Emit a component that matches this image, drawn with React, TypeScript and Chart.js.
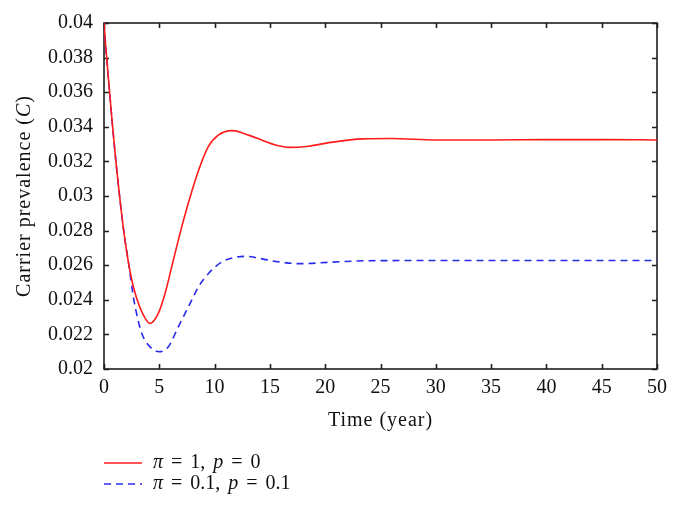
import React, { useEffect, useRef } from "react";
import { Chart, registerables } from "chart.js";

Chart.register(...registerables);

// ---- data ----
const redTime = [0, 0.15, 0.48, 0.75, 1.06, 1.39, 1.78, 2.25, 2.6, 3.0, 3.5, 4.16, 4.91, 5.52, 6.12, 6.72, 7.32, 7.93, 8.53, 9.43, 10.33, 11.6, 13.2, 14.4, 15.5, 16.8, 18.5, 20.5, 23.4, 26, 30, 35, 40, 45, 50];
const redValues = [0.04, 0.0387, 0.0362, 0.0342, 0.0321, 0.0301, 0.028, 0.026, 0.0249, 0.024, 0.0232, 0.02263, 0.02321, 0.02436, 0.0259, 0.02745, 0.0289, 0.03025, 0.03145, 0.03285, 0.03352, 0.03378, 0.03349, 0.0332, 0.03295, 0.03281, 0.03288, 0.0331, 0.0333, 0.03332, 0.03324, 0.03324, 0.03326, 0.03326, 0.03324];

const blueTime = [0, 0.15, 0.48, 0.75, 1.06, 1.39, 1.78, 2.25, 2.7, 3.4, 4.2, 5.0, 5.82, 6.72, 7.63, 8.53, 9.43, 10.63, 12.0, 12.9, 14, 15.5, 17.7, 20.7, 24, 30, 40, 50];
const blueValues = [0.04, 0.0387, 0.0362, 0.0342, 0.0321, 0.0301, 0.028, 0.026, 0.024, 0.0221, 0.02125, 0.021, 0.02129, 0.02244, 0.02359, 0.02474, 0.02551, 0.02618, 0.02647, 0.02651, 0.0264, 0.02622, 0.02609, 0.02618, 0.02626, 0.02627, 0.02627, 0.02627];

const xTickValues = [0, 5, 10, 15, 20, 25, 30, 35, 40, 45, 50];
const yTickValues = [0.02, 0.022, 0.024, 0.026, 0.028, 0.03, 0.032, 0.034, 0.036, 0.038, 0.04];

const xTitle = "Time (year)";
const yTitleRuns: [string, boolean][] = [["Carrier prevalence (", false], ["C", true], [")", false]];
const legendRuns: [string, boolean][][] = [
  [["π", true], [" = 1, ", false], ["p", true], [" = 0", false]],
  [["π", true], [" = 0.1, ", false], ["p", true], [" = 0.1", false]],
];
const seriesColors = ["#ff1a1a", "#2a2aee"];
const seriesDash = [[], [7, 5]];

const FONT = '"Liberation Serif", "DejaVu Serif", serif';
const FS = 20;

function runsWidth(ctx: CanvasRenderingContext2D, runs: [string, boolean][]) {
  let w = 0;
  for (const [t, it] of runs) {
    ctx.font = `${it ? "italic " : ""}${FS}px ${FONT}`;
    w += ctx.measureText(t).width;
  }
  return w;
}
function drawRuns(ctx: CanvasRenderingContext2D, runs: [string, boolean][], x: number, y: number, extraSpace = 0) {
  let cx = x;
  for (const [t, it] of runs) {
    ctx.font = `${it ? "italic " : ""}${FS}px ${FONT}`;
    if (extraSpace === 0) {
      ctx.fillText(t, cx, y);
      cx += ctx.measureText(t).width;
    } else {
      const parts = t.split(" ");
      parts.forEach((p, k) => {
        if (p) {
          ctx.fillText(p, cx, y);
          cx += ctx.measureText(p).width;
        }
        if (k < parts.length - 1) cx += ctx.measureText(" ").width + extraSpace;
      });
    }
  }
}

const framePlugin = {
  id: "frame",
  beforeDatasetsDraw(chart: any) {
    const { ctx, chartArea: a, scales } = chart;
    const xs = scales.x;
    const ys = scales.y;
    ctx.save();
    ctx.strokeStyle = "#1e1e1e";
    ctx.lineWidth = 1.6;
    ctx.strokeRect(a.left, a.top, a.right - a.left, a.bottom - a.top);
    const tl = 5;
    ctx.beginPath();
    xs.ticks.forEach((t: any) => {
      const px = Math.round(xs.getPixelForValue(t.value)) + 0.5;
      ctx.moveTo(px, a.bottom);
      ctx.lineTo(px, a.bottom - tl);
      ctx.moveTo(px, a.top);
      ctx.lineTo(px, a.top + tl);
    });
    ys.ticks.forEach((t: any) => {
      const py = Math.round(ys.getPixelForValue(t.value)) + 0.5;
      ctx.moveTo(a.left, py);
      ctx.lineTo(a.left + tl, py);
      ctx.moveTo(a.right, py);
      ctx.lineTo(a.right - tl, py);
    });
    ctx.stroke();
    ctx.restore();
  },
  afterDraw(chart: any) {
    const { ctx, chartArea: a } = chart;
    ctx.save();
    ctx.fillStyle = "#111";
    ctx.textBaseline = "middle";
    // x title
    (ctx as any).letterSpacing = "1px";
    ctx.font = `${FS}px ${FONT}`;
    ctx.textAlign = "left";
    const xw = ctx.measureText(xTitle).width;
    ctx.fillText(xTitle, (a.left + a.right) / 2 - xw / 2, 421);
    // y title
    ctx.save();
    ctx.translate(25, (a.top + a.bottom) / 2);
    ctx.rotate(-Math.PI / 2);
    const w = runsWidth(ctx, yTitleRuns);
    drawRuns(ctx, yTitleRuns, -w / 2, 0);
    ctx.restore();
    (ctx as any).letterSpacing = "0px";
    // legend
    const ys = [463, 484];
    legendRuns.forEach((runs, i) => {
      ctx.save();
      ctx.strokeStyle = seriesColors[i];
      ctx.lineWidth = 1.6;
      ctx.setLineDash(seriesDash[i]);
      ctx.beginPath();
      ctx.moveTo(104, ys[i]);
      ctx.lineTo(142, ys[i]);
      ctx.stroke();
      ctx.restore();
      drawRuns(ctx, runs, 153, ys[i], 3);
    });
    ctx.restore();
  },
};

export default function App() {
  const ref = useRef<HTMLCanvasElement | null>(null);
  useEffect(() => {
    document.body.style.margin = "0";
    const canvas = ref.current!;
    const chart = new Chart(canvas, {
      type: "line",
      data: {
        datasets: [
          {
            label: "π = 1, p = 0",
            data: redTime.map((t, i) => ({ x: t, y: redValues[i] })),
            borderColor: seriesColors[0],
            borderWidth: 1.6,
            pointRadius: 0,
            cubicInterpolationMode: "monotone",
            fill: false,
          },
          {
            label: "π = 0.1, p = 0.1",
            data: blueTime.map((t, i) => ({ x: t, y: blueValues[i] })),
            borderColor: seriesColors[1],
            borderWidth: 1.6,
            borderDash: seriesDash[1],
            pointRadius: 0,
            cubicInterpolationMode: "monotone",
            fill: false,
          },
        ],
      },
      options: {
        responsive: false,
        animation: false,
        layout: { padding: { left: 0, top: 22, right: 21, bottom: 0 } },
        plugins: { legend: { display: false }, tooltip: { enabled: false } },
        scales: {
          x: {
            type: "linear",
            min: 0,
            max: 50,
            afterBuildTicks: (s: any) => {
              s.ticks = xTickValues.map((v) => ({ value: v }));
            },
            afterFit: (s: any) => {
              s.height = 154;
            },
            grid: { display: false, drawTicks: false },
            border: { display: false },
            ticks: {
              padding: 7,
              color: "#111",
              font: { family: FONT, size: FS },
              maxRotation: 0,
              callback: (v: any) => String(v),
            },
          },
          y: {
            type: "linear",
            min: 0.02,
            max: 0.04,
            afterBuildTicks: (s: any) => {
              s.ticks = yTickValues.map((v) => ({ value: v }));
            },
            afterFit: (s: any) => {
              s.width = 104;
            },
            grid: { display: false, drawTicks: false },
            border: { display: false },
            ticks: {
              padding: 11,
              color: "#111",
              font: { family: FONT, size: FS },
              callback: (v: any) => String(parseFloat(Number(v).toFixed(3))),
            },
          },
        },
      },
      plugins: [framePlugin],
    } as any);
    return () => chart.destroy();
  }, []);
  return (
    <div style={{ position: "fixed", left: 0, top: 0, width: 678, height: 523, background: "#fff" }}>
      <canvas ref={ref} width={678} height={523} style={{ display: "block" }} />
    </div>
  );
}
